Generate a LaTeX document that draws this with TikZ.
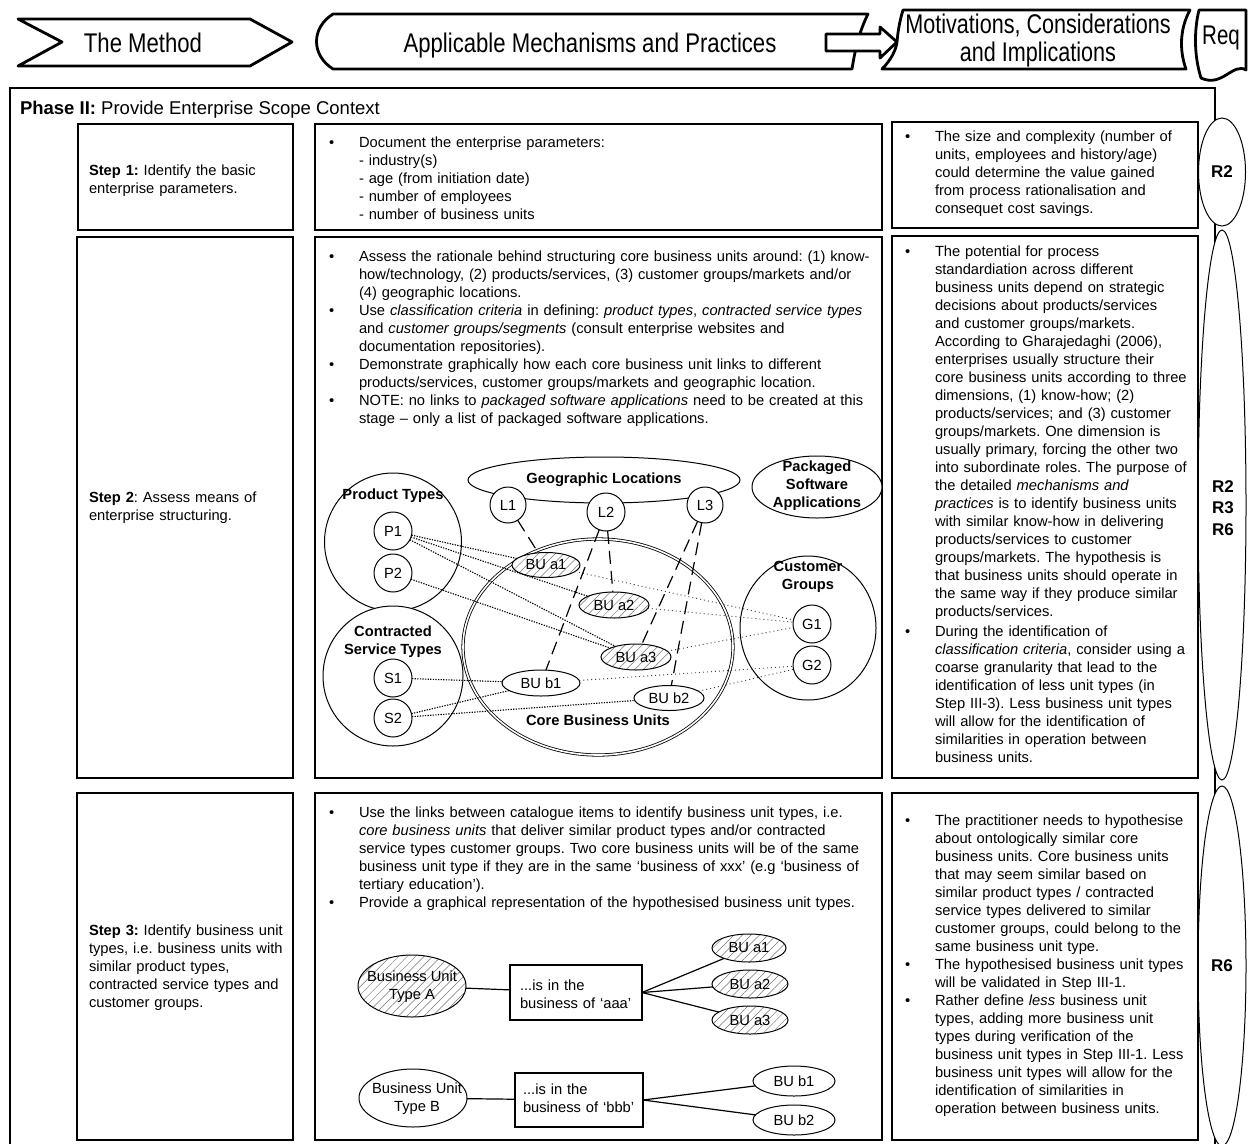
\documentclass[tikz,border=0pt]{standalone}
\usepackage{fontspec}
\setmainfont{Liberation Sans}
\usepackage{graphicx}
\usetikzlibrary{shapes.geometric,patterns.meta}
\frenchspacing
\begin{document}
\begin{tikzpicture}[x=1pt,y=-1pt,
 every node/.style={inner sep=0pt,outer sep=0pt},
 fnt/.style={font=\fontsize{14.7}{18}\selectfont},
 para/.style={fnt, anchor=base west, align=left, text width=#1},
 bul/.style={fnt, anchor=base west},
 cellbox/.style={draw, line width=1.2pt},
 hdr/.style={draw, line width=2.8pt, line join=round},
 hdrtxt/.style={font=\fontsize{27}{28}\selectfont, align=center},
 blab/.style={font=\fontsize{14.7}{18}\selectfont\bfseries, align=center},
 ov/.style={draw, ellipse, line width=1pt, fill=white, fnt, align=center},
 hatch/.style={preaction={fill=white}, pattern={Lines[angle=45,distance=6pt,line width=0.5pt]}, pattern color=black!55},
 dens/.style={line width=1.1pt, dash pattern=on 1.3pt off 1.3pt},
 spars/.style={line width=0.9pt, black!75, dash pattern=on 1pt off 3pt},
 longd/.style={line width=1.2pt, dash pattern=on 13pt off 7pt},
 solidlink/.style={line width=1.2pt},
 rlab/.style={font=\fontsize{17}{21.5}\selectfont\bfseries, align=center},
]
\fill[white] (0,0) rectangle (1252,1143);
\useasboundingbox (0,0) rectangle (1252,1143);

% ---------- header ----------
\draw[hdr] (18,19) -- (250,19) -- (292,42) -- (250,66) -- (18,66) -- (62,42) -- cycle;
\node[hdrtxt, anchor=base] (hmethod) at (143,52) {\scalebox{0.82}[1]{The Method}};
\draw[hdr] (333,14) -- (868,14) .. controls (859,32) and (855,50) .. (852,69) -- (333,69) .. controls (311,55) and (311,28) .. (333,14) -- cycle;
\node[hdrtxt, anchor=base] (happ) at (590,52) {\scalebox{0.82}[1]{Applicable Mechanisms and Practices}};
\draw[hdr, fill=white] (826,34) -- (880,34) -- (880,27) -- (897,42) -- (880,58) -- (880,51) -- (826,51) -- cycle;
\draw[hdr, fill=white] (903,10) -- (1190,10) .. controls (1180,28) and (1179,50) .. (1186,69) -- (882,69) .. controls (891,60) and (896,50) .. (897,42) .. controls (898,30) and (900,20) .. (903,10) -- cycle;
\node[hdrtxt] (hmot) at (1038,41) {\scalebox{0.8}[1]{Motivations, Considerations}\\\scalebox{0.8}[1]{and Implications}};
\draw[hdr, fill=white] (1199,10) -- (1246,10) -- (1246,70) .. controls (1233,62) and (1222,88) .. (1201,78) .. controls (1194,56) and (1194,30) .. (1199,10) -- cycle;
\node[hdrtxt, anchor=base] (hreq) at (1221,44) {\scalebox{0.76}[1]{Req}};

% ---------- phase frame ----------
\draw[line width=1.5pt] (10,1160) -- (10,88) -- (1215,88) -- (1215,1160);
\node[font=\fontsize{18.5}{22}\selectfont, anchor=base west] (phase) at (20,114) {\textbf{Phase II:} Provide Enterprise Scope Context};

% R ellipses
\node[draw, ellipse, line width=1pt, fill=white, minimum width=47, minimum height=108, rlab] (req1) at (1222,172) {R2};
\node[draw, ellipse, line width=1pt, fill=white, minimum width=48, minimum height=550] (req2) at (1222,505) {};
\node[rlab] (req2t) at (1223,508) {R2\\R3\\R6};
\node[draw, ellipse, line width=1pt, fill=white, minimum width=48, minimum height=360, rlab] (req3) at (1222,966) {R6};

% ---------- cells ----------
\draw[cellbox] (78,124) rectangle (293,230);
\draw[cellbox] (315,124) rectangle (882,230);
\draw[cellbox] (892,122) rectangle (1198,228);
\draw[cellbox] (77,237) rectangle (293,778);
\draw[cellbox] (315,237) rectangle (882,778);
\draw[cellbox] (892,236) rectangle (1198,778);
\draw[cellbox] (77,793) rectangle (293,1140);
\draw[cellbox] (315,793) rectangle (882,1140);
\draw[cellbox] (892,793) rectangle (1198,1140);

% ---------- step labels ----------
\node[para=220pt] (s1) at (89,175) {\textbf{Step 1:} Identify the basic\\enterprise parameters.};
\node[para=220pt] (s2) at (89,502) {\textbf{Step 2}: Assess means of\\enterprise structuring.};
\node[para=220pt] (s3) at (89,935) {\textbf{Step 3:} Identify business unit\\types, i.e. business units with\\similar product types,\\contracted service types and\\customer groups.};

% ---------- middle texts ----------
\node[bul] (m1b) at (329,147) {\textbullet};
\node[para=540pt] (m1) at (359,147) {Document the enterprise parameters:\\- industry(s)\\- age (from initiation date)\\- number of employees\\- number of business units};

\node[bul] (m2ab) at (329,261) {\textbullet};
\node[para=540pt] (m2a) at (359,261) {Assess the rationale behind structuring core business units around: (1) know-\\how/technology, (2) products/services, (3) customer groups/markets and/or\\(4) geographic locations.};
\node[bul] (m2bb) at (329,315) {\textbullet};
\node[para=540pt] (m2b) at (359,315) {Use \textit{classification criteria} in defining: \textit{product types}, \textit{contracted service types}\\and \textit{customer groups/segments} (consult enterprise websites and\\documentation repositories).};
\node[bul] (m2cb) at (329,369) {\textbullet};
\node[para=540pt] (m2c) at (359,369) {Demonstrate graphically how each core business unit links to different\\products/services, customer groups/markets and geographic location.};
\node[bul] (m2db) at (329,405) {\textbullet};
\node[para=540pt] (m2d) at (359,405) {NOTE: no links to \textit{packaged software applications} need to be created at this\\stage -- only a list of packaged software applications.};

\node[bul] (m3ab) at (329,817) {\textbullet};
\node[para=540pt] (m3a) at (359,817) {Use the links between catalogue items to identify business unit types, i.e.\\\textit{core business units} that deliver similar product types and/or contracted\\service types customer groups. Two core business units will be of the same\\business unit type if they are in the same ‘business of xxx’ (e.g ‘business of\\tertiary education’).};
\node[bul] (m3bb) at (329,907) {\textbullet};
\node[para=540pt] (m3b) at (359,907) {Provide a graphical representation of the hypothesised business unit types.};

% ---------- right texts ----------
\node[bul] (r1b) at (905,141) {\textbullet};
\node[para=300pt] (r1) at (935,141) {The size and complexity (number of\\units, employees and history/age)\\could determine the value gained\\from process rationalisation and\\consequet cost savings.};

\node[bul] (r2ab) at (905,256) {\textbullet};
\node[para=300pt] (r2a) at (935,256) {The potential for process\\standardiation across different\\business units depend on strategic\\decisions about products/services\\and customer groups/markets.\\According to Gharajedaghi (2006),\\enterprises usually structure their\\core business units according to three\\dimensions, (1) know-how; (2)\\products/services; and (3) customer\\groups/markets. One dimension is\\usually primary, forcing the other two\\into subordinate roles. The purpose of\\the detailed \textit{mechanisms and}\\\textit{practices} is to identify business units\\with similar know-how in delivering\\products/services to customer\\groups/markets. The hypothesis is\\that business units should operate in\\the same way if they produce similar\\products/services.};
\node[bul] (r2bb) at (905,636) {\textbullet};
\node[para=300pt] (r2b) at (935,636) {During the identification of\\\textit{classification criteria}, consider using a\\coarse granularity that lead to the\\identification of less unit types (in\\Step III-3). Less business unit types\\will allow for the identification of\\similarities in operation between\\business units.};

\node[bul] (r3ab) at (905,825) {\textbullet};
\node[para=300pt] (r3a) at (935,825) {The practitioner needs to hypothesise\\about ontologically similar core\\business units. Core business units\\that may seem similar based on\\similar product types / contracted\\service types delivered to similar\\customer groups, could belong to the\\same business unit type.};
\node[bul] (r3bb) at (905,969) {\textbullet};
\node[para=300pt] (r3b) at (935,969) {The hypothesised business unit types\\will be validated in Step III-1.};
\node[bul] (r3cb) at (905,1005) {\textbullet};
\node[para=300pt] (r3c) at (935,1005) {Rather define \textit{less} business unit\\types, adding more business unit\\types during verification of the\\business unit types in Step III-1. Less\\business unit types will allow for the\\identification of similarities in\\operation between business units.};

% ---------- step 2 diagram ----------
\node[ov, minimum width=272, minimum height=46] (geo) at (604,480) {};
\node[blab, anchor=base] (geot) at (604,483) {Geographic Locations};
\node[ov, minimum size=36] (L1) at (508,505) {L1};
\node[ov, minimum size=38] (L2) at (606,512) {L2};
\node[ov, minimum size=36] (L3) at (705,505) {L3};

\node[ov, minimum width=130, minimum height=62] (pkg) at (817,487) {};
\node[blab] (pkgt) at (817,486) {Packaged\\Software\\Applications};

\node[ov, minimum width=137, minimum height=138] (ptc) at (393,542) {};
\node[blab, anchor=base] (ptt) at (393,499) {Product Types};
\node[ov, minimum size=38] (P1) at (393,531) {P1};
\node[ov, minimum size=38] (P2) at (393,573) {P2};

\node[ov, minimum width=140, minimum height=140] (cst) at (393,676) {};
\node[blab] (cstt) at (393,642) {Contracted\\Service Types};
\node[ov, minimum size=38] (S1) at (393,678) {S1};
\node[ov, minimum size=38] (S2) at (393,718) {S2};

\node[draw, ellipse, double, double distance=1.6pt, line width=0.8pt, minimum width=270, minimum height=216] (core) at (598,647) {};
\node[blab, anchor=base] (coret) at (598,725) {Core Business Units};

\node[ov, hatch, minimum width=68, minimum height=25] (a1) at (546,565) {BU a1};
\node[ov, hatch, minimum width=70, minimum height=26] (a2) at (614,605) {BU a2};
\node[ov, hatch, minimum width=70, minimum height=26] (a3) at (636,657) {BU a3};
\node[ov, minimum width=78, minimum height=26] (b1) at (541,683) {BU b1};
\node[ov, minimum width=70, minimum height=25] (b2) at (669,698) {BU b2};

\node[ov, minimum width=136, minimum height=144] (cg) at (808,628) {};
\node[blab] (cgt) at (808,577) {Customer\\Groups};
\node[ov, minimum size=38] (G1) at (812,624) {G1};
\node[ov, minimum size=38] (G2) at (812,665) {G2};

\draw[dens] (P1) -- (a1);
\draw[dens] (P1) -- (a2);
\draw[dens] (P1) -- (a3);
\draw[dens] (P2) -- (a3);
\draw[dens] (S1) -- (b1);
\draw[dens] (S2) -- (b1);
\draw[dens] (S2) -- (b2);
\draw[spars] (a1) -- (G1);
\draw[spars] (a2) -- (G1);
\draw[spars] (a3) -- (G1);
\draw[spars] (b1) -- (G2);
\draw[spars] (b2) -- (G2);
\draw[longd] (L1) -- (a1);
\draw[longd] (L2) -- (a2);
\draw[longd] (L2) -- (b1);
\draw[longd] (L3) -- (a3);
\draw[longd] (L3) -- (b2);

% ---------- step 3 diagram ----------
\node[ov, hatch, minimum width=108, minimum height=62] (ta) at (412,986) {};
\node[fnt, align=center] (tat) at (412,987) {Business Unit\\Type A};
\node[draw, line width=1.2pt, minimum width=132, minimum height=55] (ba) at (576,992.5) {};
\node[para=125pt] (bat) at (520,990) {...is in the\\business of ‘aaa’};
\node[ov, hatch, minimum width=74, minimum height=28] (sa1) at (749,948) {BU a1};
\node[ov, hatch, minimum width=76, minimum height=28] (sa2) at (750,984) {BU a2};
\node[ov, hatch, minimum width=76, minimum height=28] (sa3) at (750,1020) {BU a3};
\draw[solidlink] (ta) -- (ba);
\draw[solidlink] (ba.east) -- (sa1);
\draw[solidlink] (ba.east) -- (sa2);
\draw[solidlink] (ba.east) -- (sa3);

\node[ov, minimum width=108, minimum height=58] (tb) at (413,1098) {};
\node[fnt, align=center] (tbt) at (417,1099) {Business Unit\\Type B};
\node[draw, line width=1.2pt, minimum width=128, minimum height=54] (bb) at (579,1100) {};
\node[para=120pt] (bbt) at (523,1094) {...is in the\\business of ‘bbb’};
\node[ov, minimum width=82, minimum height=30] (sb1) at (794,1081) {BU b1};
\node[ov, minimum width=82, minimum height=30] (sb2) at (794,1120) {BU b2};
\draw[solidlink] (tb) -- (bb);
\draw[solidlink] (bb.east) -- (sb1);
\draw[solidlink] (bb.east) -- (sb2);
\end{tikzpicture}
\end{document}
